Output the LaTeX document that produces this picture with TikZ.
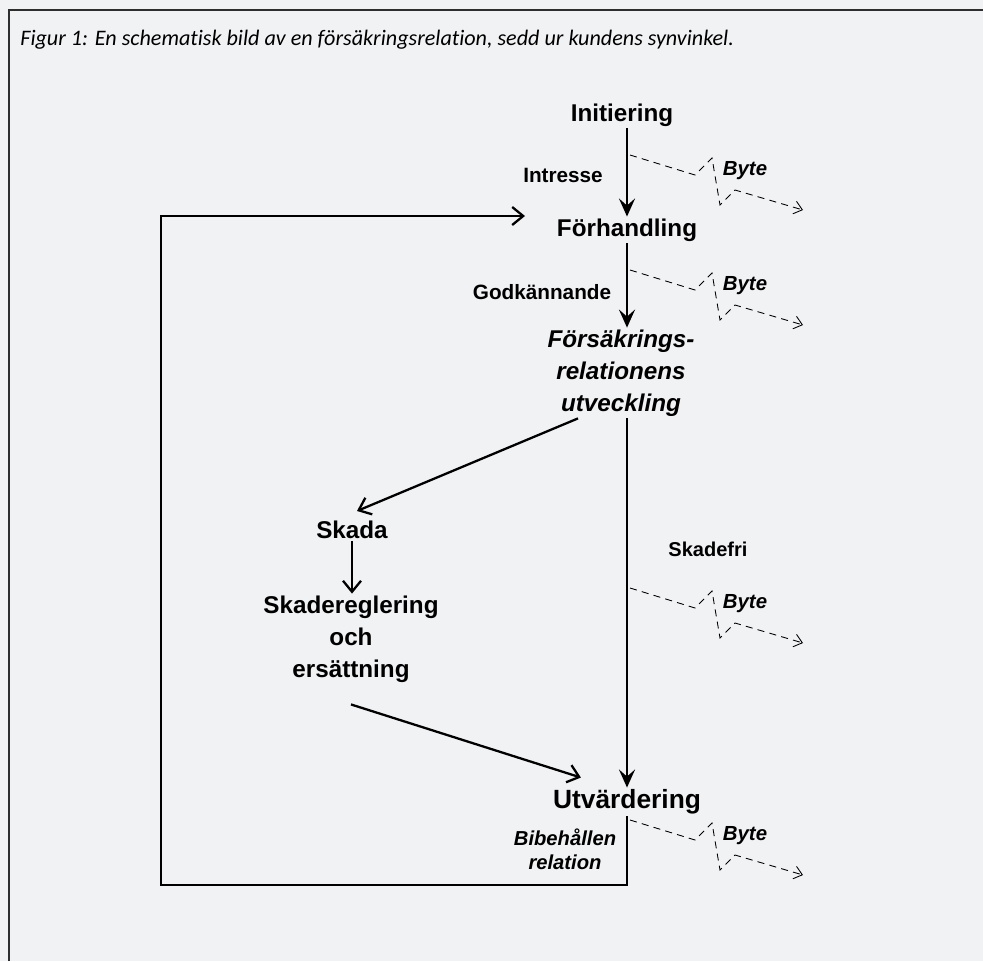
\documentclass[tikz,border=0pt]{standalone}
\usepackage{fontspec}
\setmainfont{Liberation Sans}
\newfontfamily\capfont[Ligatures=NoCommon]{Carlito}
\usetikzlibrary{arrows.meta,calc,positioning}
\definecolor{bgcol}{HTML}{F1F2F4}
\definecolor{framecol}{HTML}{2E2E2E}
\tikzset{
  stage/.style={font=\fontsize{13.8}{18.2}\selectfont\bfseries, inner sep=1pt, align=center},
  edgelbl/.style={font=\fontsize{11.8}{13.7}\selectfont\bfseries, inner sep=1pt, align=center},
  mainarrow/.style={line width=1.6pt, -{Stealth[length=0.36cm,width=0.32cm,inset=0.14cm]}},
  barbarrow/.style={line width=1.3pt, -{Straight Barb[length=0.22cm,width=0.36cm]}},
  bytepath/.style={line width=0.5pt, dash pattern=on 4pt off 3pt, -{Straight Barb[length=0.16cm,width=0.26cm]}}
}
\begin{document}
\begin{tikzpicture}[x=0.02cm,y=-0.02cm]
      \fill[bgcol] (0,0) rectangle (983,961);
      \useasboundingbox (0,0) rectangle (983,961);
      \draw[framecol, line width=1.2pt] (9,961) -- (9,10) -- (990,10);

      \node[anchor=west, inner sep=0pt, font=\capfont\itshape\fontsize{12.6}{14}\selectfont] (caption) at (20,40)
        {Figur 1: En schematisk bild av en försäkringsrelation, sedd ur kundens synvinkel.};

      % stages
      \node[stage] (init) at (622,115) {Initiering};
      \node[stage] (forh) at (627,230) {Förhandling};
      \node[stage, font=\fontsize{13.8}{18.2}\selectfont\bfseries\itshape] (fors) at (621,373)
        {Försäkrings-\\relationens\\utveckling};
      \node[stage] (skada) at (352,530) {Skada};
      \node[stage] (skreg) at (351,639) {Skadereglering\\och\\ersättning};
      \node[stage, font=\fontsize{15}{18}\selectfont\bfseries] (utv) at (627,802) {Utvärdering};

      % edge labels
      \node[edgelbl] (intresse) at (563,175) {Intresse};
      \node[edgelbl] (godk) at (542,292) {Godkännande};
      \node[edgelbl, font=\fontsize{11.4}{13.7}\selectfont\bfseries] (skadefri) at (708,549) {Skadefri};
      \node[edgelbl, font=\fontsize{11.5}{13.7}\selectfont\bfseries\itshape] (bibeh) at (565,849)
        {Bibehållen\\relation};

      % connectors
      \draw[mainarrow] (forh.north |- init.south) -- (forh.north);
      \draw[mainarrow] (forh.south) -- (forh.south |- fors.north);
      \draw[barbarrow] ([xshift=-0.86cm]fors.south) -- ([xshift=0.1cm,yshift=0.16cm]skada.north);
      \draw[barbarrow] (skada.south) -- (skada.south |- skreg.north);
      \draw[barbarrow] ([yshift=-0.4cm]skreg.south) -- ([xshift=0.6cm,yshift=0.2cm]utv.north west);
      \draw[mainarrow] (fors.south -| utv.north) -- (utv.north);

      % back to negotiation
      \coordinate (loopbot) at (161,885);
      \coordinate (loopend) at (525,216);
      \draw[barbarrow] (utv.south) |- (loopbot) |- (loopend);

      % switching insurer
      \foreach \y in {155,270,588,820} {
        \coordinate (bs) at (630,\y);
        \draw[bytepath] (bs) -- ++(65,20) -- ++(17,-17) -- ++(8,47) -- ++(15,-15) -- ++(68,20);
        \node[edgelbl, font=\fontsize{11.6}{13}\selectfont\bfseries\itshape] at ($(bs)+(115,16)$) {Byte};
      }
    \end{tikzpicture}
\end{document}
